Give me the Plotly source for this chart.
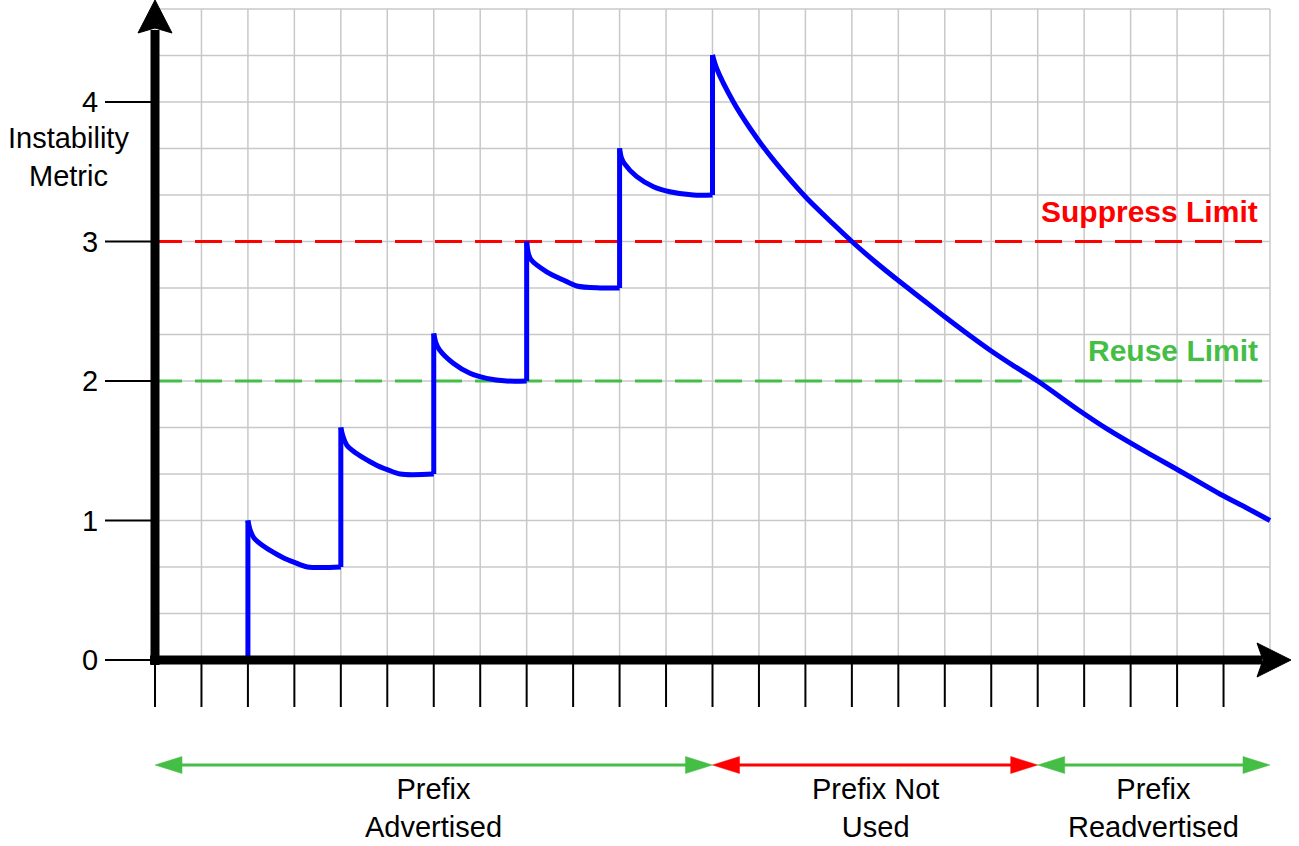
import plotly.graph_objects as go

# ---------------- data ----------------
start_time = 2.0
start_value = 0.0
seg1_t = [2.0, 2.05, 2.13, 2.34, 2.56, 2.78, 3.0, 3.28, 4.0]
seg1_v = [1.0, 0.93, 0.875, 0.815, 0.77, 0.73, 0.70, 0.667, 0.667]
seg2_t = [4.0, 4.05, 4.13, 4.34, 4.56, 4.78, 5.0, 5.28, 6.0]
seg2_v = [1.667, 1.60, 1.54, 1.48, 1.435, 1.395, 1.365, 1.333, 1.333]
seg3_t = [6.0, 6.05, 6.13, 6.42, 6.78, 7.14, 7.57, 8.0]
seg3_v = [2.34, 2.27, 2.22, 2.127, 2.055, 2.019, 2.0, 2.0]
seg4_t = [8.0, 8.04, 8.1, 8.43, 8.79, 9.08, 9.58, 10.0]
seg4_v = [3.0, 2.91, 2.867, 2.783, 2.724, 2.681, 2.667, 2.667]
seg5_t = [10.0, 10.04, 10.1, 10.37, 10.73, 11.08, 11.59, 12.0]
seg5_v = [3.668, 3.60, 3.56, 3.465, 3.393, 3.357, 3.333, 3.333]
decay_t = [12.0, 12.09, 12.45, 12.81, 13.17, 13.6, 14.03, 14.6, 15.0, 15.5, 16.0,
           16.5, 17.0, 17.5, 18.0, 18.5, 19.0, 19.91, 20.5, 21.34, 22.06, 22.92,
           23.5, 24.0]
decay_v = [4.337, 4.24, 4.0, 3.81, 3.645, 3.47, 3.31, 3.125, 3.0, 2.855, 2.72,
           2.59, 2.46, 2.335, 2.215, 2.105, 2.0, 1.785, 1.655, 1.49, 1.355, 1.19,
           1.09, 1.0]

limit_names = ["Suppress Limit", "Reuse Limit"]
limit_values = [3, 2]

y_tick_values = [0, 1, 2, 3, 4]
y_tick_labels = ["0", "1", "2", "3", "4"]
x_tick_values = list(range(0, 24))
x_grid_values = list(range(0, 25))
y_grid_values = [k / 3 for k in range(1, 15)]

phase_labels = ["Prefix<br>Advertised", "Prefix Not<br>Used", "Prefix<br>Readvertised"]
phase_start = [0, 12, 19]
phase_end = [12, 19, 24]

# ---------------- styling ----------------
RED = "#FF0000"
GREEN = "#44BE44"
BLUE = "#0000FF"
GRID = "#C8C8C8"
FONT = "Liberation Sans, Arial, sans-serif"
limit_colors = [RED, GREEN]
phase_colors = [GREEN, RED, GREEN]

W, H = 1299, 846
PX_X0, PX_PER_X = 155.0, 46.458
PX_Y0, PX_PER_Y = 660.0, 139.5
X_MAX = 24
GRID_TOP = 14 / 3


def dx(p):
    return p / PX_PER_X


def dy(p):
    return p / PX_PER_Y


def xpx(p):
    return (p - PX_X0) / PX_PER_X


def ypx(p):
    return (PX_Y0 - p) / PX_PER_Y


segments = [(seg1_t, seg1_v), (seg2_t, seg2_v), (seg3_t, seg3_v),
            (seg4_t, seg4_v), (seg5_t, seg5_v), (decay_t, decay_v)]

fig = go.Figure()
prev_t, prev_v = start_time, start_value
for st, sv in segments:
    # vertical jump
    fig.add_trace(go.Scatter(x=[prev_t, st[0]], y=[prev_v, sv[0]], mode="lines",
                             line=dict(color=BLUE, width=5), hoverinfo="skip"))
    # decay curve
    fig.add_trace(go.Scatter(x=st, y=sv, mode="lines",
                             line=dict(color=BLUE, width=5, shape="spline", smoothing=0.9),
                             hoverinfo="skip"))
    prev_t, prev_v = st[-1], sv[-1]

shapes = []
# grid
for gx in x_grid_values:
    shapes.append(dict(type="line", xref="x", yref="y", x0=gx, x1=gx, y0=0, y1=GRID_TOP,
                       line=dict(color=GRID, width=1.5), layer="below"))
for gy in y_grid_values:
    shapes.append(dict(type="line", xref="x", yref="y", x0=0, x1=X_MAX, y0=gy, y1=gy,
                       line=dict(color=GRID, width=1.5), layer="below"))
# limit lines
for val, col in zip(limit_values, limit_colors):
    shapes.append(dict(type="line", xref="x", yref="y", x0=0, x1=X_MAX, y0=val, y1=val,
                       line=dict(color=col, width=3, dash="27px,13px"), layer="below"))

# axis lines
shapes.append(dict(type="line", xref="x", yref="y", x0=0, x1=0, y0=-dy(5), y1=ypx(30),
                   line=dict(color="black", width=9), layer="above"))
shapes.append(dict(type="line", xref="x", yref="y", x0=-dx(5), x1=xpx(1262), y0=0, y1=0,
                   line=dict(color="black", width=9), layer="above"))
# axis arrowheads
shapes.append(dict(type="path", xref="x", yref="y",
                   path=f"M 0 {ypx(0)} L {-dx(17)} {ypx(33)} L 0 {ypx(28)} L {dx(17)} {ypx(33)} Z",
                   fillcolor="black", line=dict(color="black", width=1), layer="above"))
shapes.append(dict(type="path", xref="x", yref="y",
                   path=f"M {xpx(1291)} 0 L {xpx(1257)} {dy(17)} L {xpx(1263)} 0 L {xpx(1257)} {-dy(17)} Z",
                   fillcolor="black", line=dict(color="black", width=1), layer="above"))
# y ticks
for tv in y_tick_values:
    shapes.append(dict(type="line", xref="x", yref="y", x0=xpx(105), x1=0, y0=tv, y1=tv,
                       line=dict(color="black", width=2), layer="above"))
# x ticks
for tv in x_tick_values:
    shapes.append(dict(type="line", xref="x", yref="y", x0=tv, x1=tv, y0=0, y1=-dy(47),
                       line=dict(color="black", width=2), layer="above"))

# phase arrows
Y_ARR = ypx(765)
HEAD_L, HEAD_W = 27, 8.5
for s, e, col in zip(phase_start, phase_end, phase_colors):
    shapes.append(dict(type="line", xref="x", yref="y", x0=s + dx(HEAD_L - 2), x1=e - dx(HEAD_L - 2),
                       y0=Y_ARR, y1=Y_ARR, line=dict(color=col, width=3)))
    shapes.append(dict(type="path", xref="x", yref="y",
                       path=f"M {s} {Y_ARR} L {s + dx(HEAD_L)} {Y_ARR + dy(HEAD_W)} L {s + dx(HEAD_L)} {Y_ARR - dy(HEAD_W)} Z",
                       fillcolor=col, line=dict(color=col, width=0.5)))
    shapes.append(dict(type="path", xref="x", yref="y",
                       path=f"M {e} {Y_ARR} L {e - dx(HEAD_L)} {Y_ARR + dy(HEAD_W)} L {e - dx(HEAD_L)} {Y_ARR - dy(HEAD_W)} Z",
                       fillcolor=col, line=dict(color=col, width=0.5)))

annotations = []
for tv, tl in zip(y_tick_values, y_tick_labels):
    annotations.append(dict(x=xpx(100), y=tv, xref="x", yref="y", text=tl, showarrow=False,
                            xanchor="right", yanchor="middle",
                            font=dict(family=FONT, size=29, color="black")))
annotations.append(dict(x=xpx(68), y=ypx(157), xref="x", yref="y", text="Instability<br>Metric",
                        showarrow=False, xanchor="center", yanchor="middle", align="center",
                        font=dict(family=FONT, size=29, color="black")))
annotations.append(dict(x=xpx(1300), y=ypx(730), xref="x", yref="y", text="Time",
                        showarrow=False, xanchor="right", yanchor="middle",
                        font=dict(family=FONT, size=29, color="black")))
for name, val, col, off in zip(limit_names, limit_values, limit_colors, [30, 31]):
    annotations.append(dict(x=xpx(1260), y=val + dy(off), xref="x", yref="y",
                            text=f"<b>{name}</b>", showarrow=False, xanchor="right",
                            yanchor="middle", font=dict(family=FONT, size=30, color=col)))
for lab, s, e in zip(phase_labels, phase_start, phase_end):
    annotations.append(dict(x=(s + e) / 2, y=ypx(808), xref="x", yref="y", text=lab,
                            showarrow=False, xanchor="center", yanchor="middle", align="center",
                            font=dict(family=FONT, size=29, color="black")))

fig.update_layout(
    width=W, height=H, margin=dict(l=0, r=0, t=0, b=0),
    paper_bgcolor="white", plot_bgcolor="white", showlegend=False,
    xaxis=dict(visible=False, range=[-PX_X0 / PX_PER_X, (W - PX_X0) / PX_PER_X], fixedrange=True),
    yaxis=dict(visible=False, range=[-(H - PX_Y0) / PX_PER_Y, PX_Y0 / PX_PER_Y], fixedrange=True),
    shapes=shapes, annotations=annotations, hovermode=False,
)

fig.write_html("out.html", config={"displayModeBar": False},
               post_script="document.body.style.margin='0';document.body.style.overflow='hidden';")
